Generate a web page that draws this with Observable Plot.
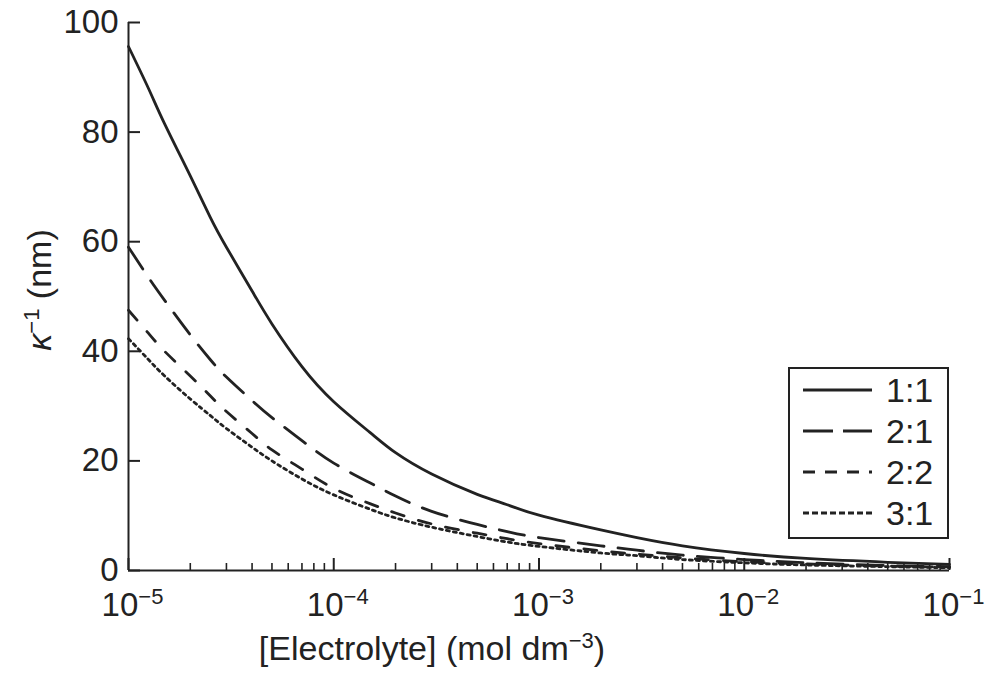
<!DOCTYPE html>
<html><head><meta charset="utf-8">
<script src="https://cdn.jsdelivr.net/npm/d3@7"></script>
<script src="https://cdn.jsdelivr.net/npm/@observablehq/plot@0.6"></script>
<style>
body{margin:0;background:#fff;}
svg{font-family:"Liberation Sans",Arial,Helvetica,sans-serif;}
</style>
</head><body><div id="chart"></div>
<script>
// Electrolyte concentration (mol dm^-3)
const concentrations = [1e-5, 1.25e-5, 1.5e-5, 2e-5, 2.5e-5, 3e-5, 4e-5, 5e-5, 7e-5, 1e-4, 1.5e-4, 2e-4, 3e-4, 5e-4, 7e-4, 1e-3, 2e-3, 3e-3, 5e-3, 1e-2, 2e-2, 5e-2, 1e-1];
// Debye length kappa^-1 (nm) for each electrolyte type
const debye11 = [95.6, 88, 81.5, 72, 64.5, 59, 51, 45, 37.2, 30.8, 25.2, 21.5, 17.6, 13.9, 12.0, 10.1, 7.4, 6.0, 4.5, 3.1, 2.2, 1.5, 1.1];
const debye21 = [59, 53.5, 49.3, 43, 38.5, 35.3, 31, 27.9, 23.7, 19.6, 16.0, 13.6, 10.8, 8.4, 7.1, 6.0, 4.5, 3.7, 2.8, 2.0, 1.4, 0.9, 0.7];
const debye22 = [47.5, 43.3, 40, 35.5, 31.9, 29, 25, 22, 18.5, 15.0, 12.2, 10.5, 8.5, 6.8, 5.8, 4.9, 3.6, 3.0, 2.3, 1.6, 1.2, 0.8, 0.6];
const debye31 = [42.3, 38.5, 35.5, 31.3, 28.3, 25.9, 22.5, 20.0, 16.7, 13.8, 11.2, 9.6, 7.9, 6.2, 5.2, 4.4, 3.2, 2.7, 2.0, 1.4, 1.0, 0.7, 0.5];
const seriesNames = ["1:1", "2:1", "2:2", "3:1"];
// Axis ticks
const majorTicks = [1e-5, 1e-4, 1e-3, 1e-2, 1e-1];
const majorExponents = ["\u22125", "\u22124", "\u22123", "\u22122", "\u22121"];
const minorMultipliers = [2, 3, 4, 5, 6, 7, 8, 9];
const minorDecades = [1e-5, 1e-4, 1e-3, 1e-2];
const yTicks = [0, 20, 40, 60, 80, 100];

const minorTicks = minorDecades.flatMap(d => minorMultipliers.map(m => m * d));
const allSeries = [debye11, debye21, debye22, debye31];
const rows = seriesNames.map((s, i) => concentrations.map((c, j) => ({series: s, c, k: allSeries[i][j]})));

const INK = "#222";
const W = 994, H = 676, mL = 128, mR = 45, mT = 22, mB = 106;
const frameW = W - mL - mR, frameH = H - mT - mB;
const curveDash = ["none", "26,14", "13,15", "3,4"];
const legendDash = ["none", "30,10", "12,10", "6,3"];

const marks = [
  Plot.ruleY([0], {stroke: INK, strokeWidth: 2}),
  Plot.ruleX([1e-5], {stroke: INK, strokeWidth: 2}),
  Plot.ruleX(majorTicks, {stroke: INK, strokeWidth: 2, insetTop: frameH - 12}),
  Plot.ruleX(minorTicks, {stroke: INK, strokeWidth: 1.6, insetTop: frameH - 7}),
  Plot.ruleY(yTicks, {stroke: INK, strokeWidth: 2, insetRight: frameW - 12}),
  Plot.axisY(yTicks, {tickSize: 0, tickPadding: 10, label: null, fontSize: 33, fill: INK}),
  Plot.axisX(majorTicks, {tickSize: 0, tickPadding: 22, dx: 4, label: null, fontSize: 33, fill: INK,
    tickFormat: d => "10^" + majorExponents[majorTicks.indexOf(d)]})
];
rows.forEach((data, i) => {
  marks.push(Plot.line(data, {x: "c", y: "k", curve: "natural", stroke: INK, strokeWidth: 2.8,
    strokeDasharray: curveDash[i] === "none" ? undefined : curveDash[i]}));
});

const svg = Plot.plot({
  width: W, height: H, marginLeft: mL, marginRight: mR, marginTop: mT, marginBottom: mB,
  x: {type: "log", domain: [1e-5, 1e-1]},
  y: {domain: [0, 100]},
  style: {fontFamily: '"Liberation Sans", Arial, sans-serif', color: INK, background: "white", overflow: "visible"},
  marks
});
document.getElementById("chart").appendChild(svg);

const s = d3.select(svg);
// superscripts in x tick labels
s.selectAll('[aria-label="x-axis tick label"] text').each(function() {
  const [base, exp] = this.textContent.split("^");
  this.textContent = "";
  const t = d3.select(this);
  t.append("tspan").text(base);
  t.append("tspan").attr("dy", "-12").attr("font-size", "22").text(exp);
});

// axis titles
const xt = s.append("text").attr("x", 432).attr("y", 660).attr("text-anchor", "middle")
  .attr("font-size", 34).attr("fill", INK);
xt.append("tspan").text("[Electrolyte] (mol dm");
xt.append("tspan").attr("dy", -12).attr("font-size", 22).text("\u22123");
xt.append("tspan").attr("dy", 12).text(")");

const yt = s.append("text").attr("transform", "translate(51,290) rotate(-90)").attr("text-anchor", "middle")
  .attr("font-size", 34).attr("fill", INK);
yt.append("tspan").attr("font-style", "italic").text("\u03ba");
yt.append("tspan").attr("dy", -12).attr("font-size", 22).text("\u22121");
yt.append("tspan").attr("dy", 12).text(" (nm)");

// legend
const lg = s.append("g").attr("text-anchor", "start");
lg.append("rect").attr("x", 789).attr("y", 368).attr("width", 159).attr("height", 170)
  .attr("fill", "white").attr("stroke", INK).attr("stroke-width", 2);
const legendY = [390, 431, 472, 513];
seriesNames.forEach((name, i) => {
  lg.append("line").attr("x1", 803).attr("x2", 872).attr("y1", legendY[i]).attr("y2", legendY[i])
    .attr("stroke", INK).attr("stroke-width", 2.8)
    .attr("stroke-dasharray", legendDash[i] === "none" ? null : legendDash[i]);
  lg.append("text").attr("x", 886).attr("y", legendY[i] + 12).attr("font-size", 34)
    .attr("text-anchor", "start").attr("fill", INK).text(name);
});
</script>
</body></html>
